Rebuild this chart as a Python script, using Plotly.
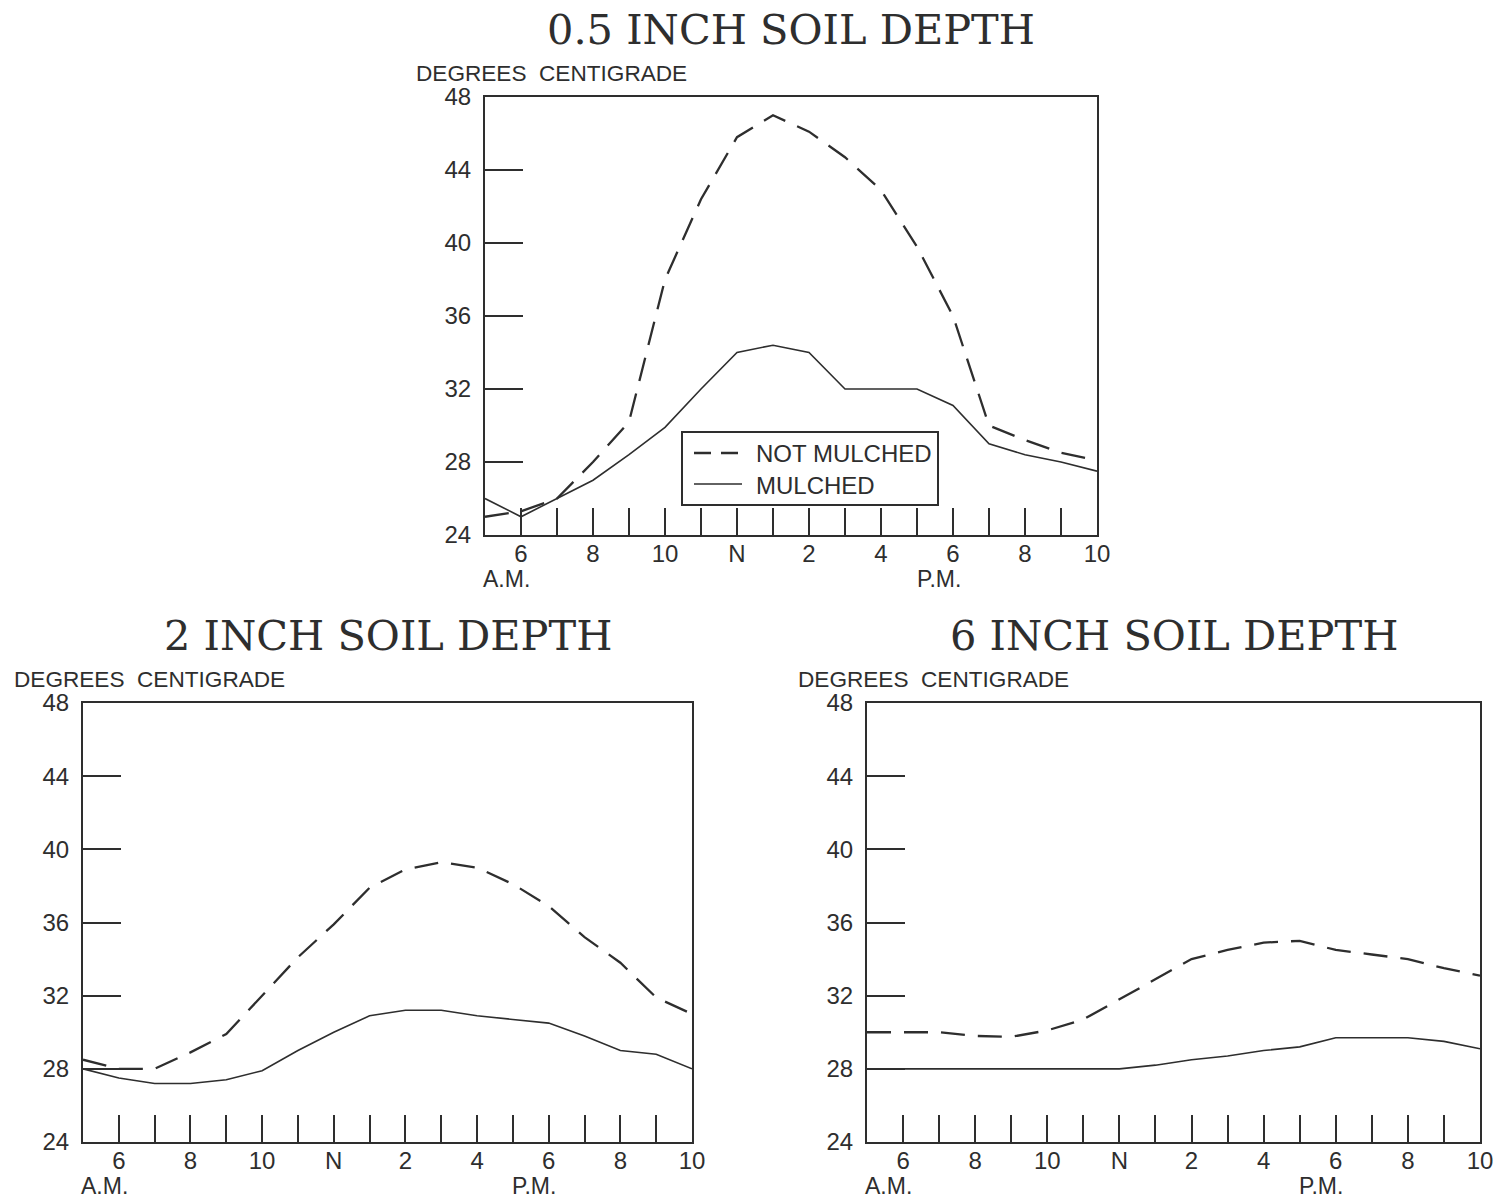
import plotly.graph_objects as go

W, H = 1502, 1199

# ---------------- data ----------------
hours = list(range(5, 23))
xtick_text = ["", "6", "", "8", "", "10", "", "N", "", "2", "", "4", "", "6", "", "8", "", "10"]
ytick_vals = [24, 28, 32, 36, 40, 44, 48]

not_mulched_05 = [25.0, 25.3, 26.0, 28.0, 30.2, 38.0, 42.4, 45.8, 47.0, 46.1, 44.7, 42.9, 39.8, 36.0, 30.0, 29.2, 28.5, 28.1]
mulched_05 = [26.0, 25.0, 26.0, 27.0, 28.4, 29.9, 32.0, 34.0, 34.4, 34.0, 32.0, 32.0, 32.0, 31.1, 29.0, 28.4, 28.0, 27.5]

not_mulched_2 = [28.5, 28.0, 28.0, 28.9, 29.9, 32.0, 34.1, 35.9, 37.9, 38.9, 39.3, 39.0, 38.1, 36.9, 35.2, 33.8, 31.9, 31.0]
mulched_2 = [28.0, 27.5, 27.2, 27.2, 27.4, 27.9, 29.0, 30.0, 30.9, 31.2, 31.2, 30.9, 30.7, 30.5, 29.8, 29.0, 28.8, 28.0]

not_mulched_6 = [30.0, 30.0, 30.0, 29.8, 29.75, 30.1, 30.7, 31.8, 32.9, 34.0, 34.5, 34.9, 35.0, 34.5, 34.25, 34.0, 33.5, 33.1]
mulched_6 = [28.0, 28.0, 28.0, 28.0, 28.0, 28.0, 28.0, 28.0, 28.2, 28.5, 28.7, 29.0, 29.2, 29.7, 29.7, 29.7, 29.5, 29.1]

titles = ["0.5 INCH SOIL DEPTH", "2 INCH SOIL DEPTH", "6 INCH SOIL DEPTH"]
series_names = ["NOT MULCHED", "MULCHED"]
y_label = "DEGREES  CENTIGRADE"

# ---------------- style ----------------
INK = "#2e2e2e"
SANS = "Liberation Sans, Arial, Helvetica, sans-serif"
SERIF = "DejaVu Serif, Liberation Serif, serif"
DASH = "24px,13px"

# plot boxes in window pixels: (left, right, top, bottom)
boxes = [(485, 1097, 97, 535), (83, 692, 703, 1142), (867, 1480, 703, 1142)]


def px(x):
    return x / W


def py(y):
    return 1 - y / H


fig = go.Figure()
data_sets = [(not_mulched_05, mulched_05), (not_mulched_2, mulched_2), (not_mulched_6, mulched_6)]

for i, (nm, m) in enumerate(data_sets):
    ax = "" if i == 0 else str(i + 1)
    fig.add_trace(go.Scatter(
        x=hours, y=nm, mode="lines", name=series_names[0],
        line=dict(color=INK, width=2.3, dash=DASH),
        xaxis="x" + ax, yaxis="y" + ax, showlegend=False,
    ))
    fig.add_trace(go.Scatter(
        x=hours, y=m, mode="lines", name=series_names[1],
        line=dict(color=INK, width=1.6),
        xaxis="x" + ax, yaxis="y" + ax, showlegend=False,
    ))

layout = dict(
    width=W, height=H,
    margin=dict(l=0, r=0, t=0, b=0, autoexpand=False),
    paper_bgcolor="white", plot_bgcolor="white",
    font=dict(family=SANS, color=INK, size=24),
    showlegend=False,
    annotations=[],
    shapes=[],
)

for i, (l, r, t, b) in enumerate(boxes):
    ax = "" if i == 0 else str(i + 1)
    layout["xaxis" + ax] = dict(
        domain=[px(l), px(r)], anchor="y" + ax, range=[5, 22],
        tickmode="array", tickvals=hours, ticktext=xtick_text,
        ticks="inside", ticklen=27, tickwidth=2, tickcolor=INK,
        showline=True, linecolor=INK, linewidth=2, mirror=True,
        showgrid=False, zeroline=False, ticklabelstandoff=-4,
        tickfont=dict(family=SANS, size=24, color=INK),
    )
    layout["yaxis" + ax] = dict(
        domain=[py(b), py(t)], anchor="x" + ax, range=[24, 48],
        tickmode="array", tickvals=ytick_vals,
        ticks="inside", ticklen=38, tickwidth=2, tickcolor=INK,
        showline=True, linecolor=INK, linewidth=2, mirror=True,
        showgrid=False, zeroline=False, ticklabelstandoff=7,
        tickfont=dict(family=SANS, size=24, color=INK),
    )
    cx = (l + r) / 2
    layout["annotations"].append(dict(
        text=titles[i], x=px(cx), y=py(t - 68), xref="paper", yref="paper",
        xanchor="center", yanchor="middle", showarrow=False,
        font=dict(family=SERIF, size=41.5, color=INK),
    ))
    layout["annotations"].append(dict(
        text=y_label, x=px(l - 71), y=py(t - 24), xref="paper", yref="paper",
        xanchor="left", yanchor="middle", showarrow=False,
        font=dict(family=SANS, size=22.6, color=INK),
    ))
    for xv, lab in [(5.6, "A.M."), (17.6, "P.M.")]:
        layout["annotations"].append(dict(
            text=lab, x=xv, xref="x" + ax, y=0, yref="y" + ax + " domain",
            yshift=-44, xanchor="center", yanchor="middle", showarrow=False,
            font=dict(family=SANS, size=23, color=INK),
        ))

# ---- legend box (top panel) ----
lg_l, lg_r, lg_t, lg_b = 682, 938, 432, 505
layout["shapes"].append(dict(
    type="rect", xref="paper", yref="paper",
    x0=px(lg_l), x1=px(lg_r), y0=py(lg_b), y1=py(lg_t),
    line=dict(color=INK, width=2), fillcolor="white", layer="above",
))
layout["shapes"].append(dict(
    type="line", xref="paper", yref="paper",
    x0=px(694), x1=px(742), y0=py(453), y1=py(453),
    line=dict(color=INK, width=2.3, dash="17px,10px"), layer="above",
))
layout["shapes"].append(dict(
    type="line", xref="paper", yref="paper",
    x0=px(694), x1=px(742), y0=py(484), y1=py(484),
    line=dict(color=INK, width=1.6), layer="above",
))
for yy, name in [(453, series_names[0]), (485, series_names[1])]:
    layout["annotations"].append(dict(
        text=name, x=px(754), y=py(yy), xref="paper", yref="paper",
        xanchor="left", yanchor="middle", showarrow=False,
        font=dict(family=SANS, size=24, color=INK),
    ))

fig.update_layout(**layout)
fig.write_html(
    "out.html",
    config={"displayModeBar": False},
    post_script="document.body.style.margin='0';document.body.style.overflow='hidden';",
)
